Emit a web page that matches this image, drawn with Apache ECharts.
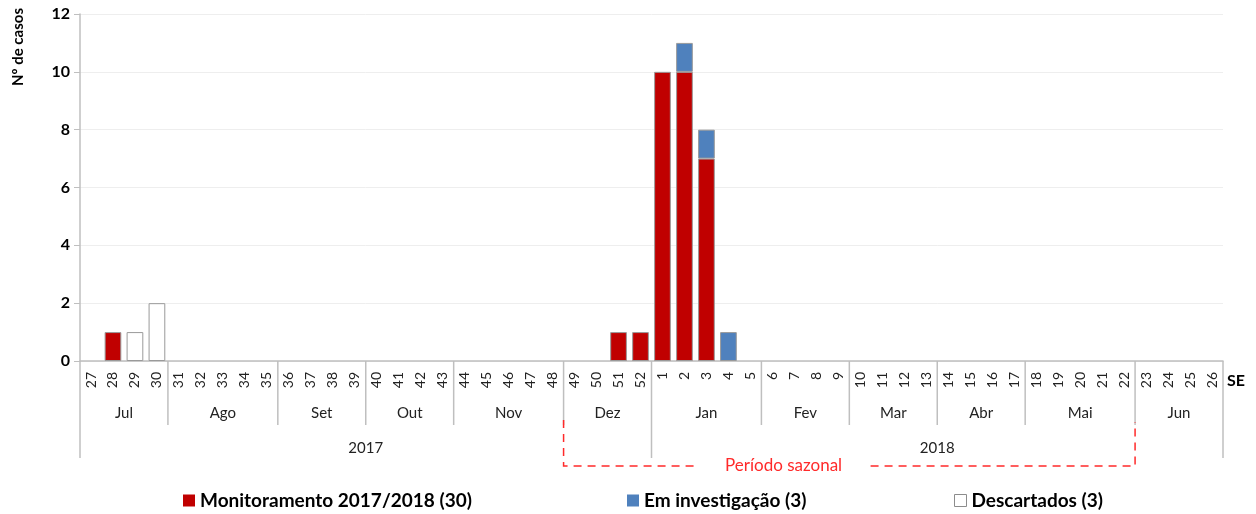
<!DOCTYPE html>
<html>
<head>
<meta charset="utf-8">
<script src="https://cdn.jsdelivr.net/npm/echarts@6/dist/echarts.min.js"></script>
<style>
  html, body { margin: 0; padding: 0; background: #fff; }
  #chart { width: 1256px; height: 514px; }
</style>
</head>
<body>
<div id="chart"></div>
<script>
const FONT = 'Lato, "Open Sans", sans-serif';

// epidemiological weeks (SE) 27/2017 .. 26/2018
const weeks = [
  '27', '28', '29', '30', '31', '32', '33', '34', '35', '36', '37', '38', '39',
  '40', '41', '42', '43', '44', '45', '46', '47', '48', '49', '50', '51', '52',
  '1', '2', '3', '4', '5', '6', '7', '8', '9', '10', '11', '12', '13',
  '14', '15', '16', '17', '18', '19', '20', '21', '22', '23', '24', '25', '26'
];
const monthLabels = ['Jul', 'Ago', 'Set', 'Out', 'Nov', 'Dez', 'Jan', 'Fev', 'Mar', 'Abr', 'Mai', 'Jun'];
const monthWeeks = [4, 5, 4, 4, 5, 4, 5, 4, 4, 4, 5, 4];
const yearLabels = ['2017', '2018'];
const yearWeeks = [26, 26];

const monitoramento = [
  0, 1, 0, 0, 0, 0, 0, 0, 0, 0, 0, 0, 0,
  0, 0, 0, 0, 0, 0, 0, 0, 0, 0, 0, 1, 1,
  10, 10, 7, 0, 0, 0, 0, 0, 0, 0, 0, 0, 0,
  0, 0, 0, 0, 0, 0, 0, 0, 0, 0, 0, 0, 0
];
const investigacao = [
  0, 0, 0, 0, 0, 0, 0, 0, 0, 0, 0, 0, 0,
  0, 0, 0, 0, 0, 0, 0, 0, 0, 0, 0, 0, 0,
  0, 1, 1, 1, 0, 0, 0, 0, 0, 0, 0, 0, 0,
  0, 0, 0, 0, 0, 0, 0, 0, 0, 0, 0, 0, 0
];
const descartados = [
  0, 0, 1, 2, 0, 0, 0, 0, 0, 0, 0, 0, 0,
  0, 0, 0, 0, 0, 0, 0, 0, 0, 0, 0, 0, 0,
  0, 0, 0, 0, 0, 0, 0, 0, 0, 0, 0, 0, 0,
  0, 0, 0, 0, 0, 0, 0, 0, 0, 0, 0, 0, 0
];

const seriesNames = ['Monitoramento 2017/2018 (30)', 'Em investigação (3)', 'Descartados (3)'];

// seasonal period: from week 49 (2017) to week 22 (2018)
const seasonStart = '49';
const seasonEnd = '22';

const chart = echarts.init(document.getElementById('chart'));

// zeros are drawn as gaps so no empty outlines show up
const noZero = (arr) => arr.map((v) => (v === 0 ? '-' : v));

const barSeries = (name, data, color) => ({
  name: name,
  type: 'bar',
  stack: 'casos',
  data: noZero(data),
  barCategoryGap: '24%',
  itemStyle: {color: color, borderColor: '#9a9a9a', borderWidth: 1}
});

// one legend per item so each sits where the original puts it
const legendAt = (name, left, extra) => ({
  left: left,
  top: 486,
  itemWidth: 12,
  itemHeight: 12,
  icon: 'rect',
  textStyle: {fontSize: 19, fontWeight: 'bold', color: '#000', fontFamily: FONT},
  data: [Object.assign({name: name}, extra || {})]
});

chart.setOption({
  animation: false,
  textStyle: {fontFamily: FONT},
  grid: {left: 80, right: 33, top: 14, bottom: 153},
  legend: [
    legendAt(seriesNames[0], 178, {itemStyle: {borderWidth: 0}}),
    legendAt(seriesNames[1], 622, {itemStyle: {borderWidth: 0}}),
    legendAt(seriesNames[2], 949, {itemStyle: {borderColor: '#8c8c8c', borderWidth: 1}})
  ],
  xAxis: {
    type: 'category',
    data: weeks,
    axisLine: {lineStyle: {color: '#bfbfbf', width: 1.5}},
    axisTick: {show: false},
    axisLabel: {rotate: 90, fontSize: 14, color: '#222', margin: 11, interval: 0}
  },
  yAxis: {
    type: 'value',
    min: 0,
    max: 12,
    interval: 2,
    axisLine: {show: true, lineStyle: {color: '#bfbfbf', width: 1.5}},
    axisTick: {show: true, length: 6, lineStyle: {color: '#bfbfbf'}},
    axisLabel: {fontSize: 16, fontWeight: 'bold', color: '#000', margin: 10},
    splitLine: {lineStyle: {color: '#eeeeee'}}
  },
  series: [
    barSeries(seriesNames[0], monitoramento, '#c00000'),
    barSeries(seriesNames[1], investigacao, '#4f81bd'),
    barSeries(seriesNames[2], descartados, '#ffffff')
  ]
});

// month / year rows, separators and the seasonal-period bracket
function drawAnnotations() {
  const c0 = chart.convertToPixel({xAxisIndex: 0}, weeks[0]);
  const c1 = chart.convertToPixel({xAxisIndex: 0}, weeks[1]);
  const w = c1 - c0;
  const boundary = (i) => c0 - w / 2 + i * w;
  const y0 = chart.convertToPixel({yAxisIndex: 0}, 0);
  const sepStyle = {stroke: '#bfbfbf', lineWidth: 1.5};
  const els = [];

  const yearBounds = [0];
  yearWeeks.reduce((acc, n) => { yearBounds.push(acc + n); return acc + n; }, 0);

  let start = 0;
  monthWeeks.forEach((n, k) => {
    const end = start + n;
    els.push({
      type: 'text',
      style: {
        text: monthLabels[k], x: (boundary(start) + boundary(end)) / 2, y: y0 + 52,
        align: 'center', verticalAlign: 'middle', fontSize: 15, fill: '#222', fontFamily: FONT
      }
    });
    if (end < weeks.length && yearBounds.indexOf(end) < 0) {
      els.push({type: 'line', shape: {x1: boundary(end), y1: y0, x2: boundary(end), y2: y0 + 64}, style: sepStyle});
    }
    start = end;
  });

  yearBounds.forEach((b) => {
    els.push({type: 'line', shape: {x1: boundary(b), y1: y0, x2: boundary(b), y2: y0 + 97}, style: sepStyle});
  });
  yearLabels.forEach((label, k) => {
    els.push({
      type: 'text',
      style: {
        text: label, x: (boundary(yearBounds[k]) + boundary(yearBounds[k + 1])) / 2, y: y0 + 87,
        align: 'center', verticalAlign: 'middle', fontSize: 15, fill: '#222', fontFamily: FONT
      }
    });
  });

  // SE label at end of week axis
  els.push({
    type: 'text',
    style: {
      text: 'SE', x: boundary(weeks.length) + 4, y: y0 + 20,
      align: 'left', verticalAlign: 'middle', fontSize: 16, fontWeight: 'bold', fill: '#000', fontFamily: FONT
    }
  });

  // y axis title
  els.push({
    type: 'text',
    x: 18, y: 8, rotation: Math.PI / 2,
    style: {
      text: 'Nº de casos', x: 0, y: 0,
      align: 'right', verticalAlign: 'middle', fontSize: 15, fontWeight: 'bold', fill: '#000', fontFamily: FONT
    }
  });

  // seasonal period bracket
  const xs = boundary(weeks.indexOf(seasonStart));
  const xe = boundary(weeks.lastIndexOf(seasonEnd) + 1);
  const yb = y0 + 105;
  const dash = {stroke: '#ff2a2a', lineWidth: 1.5, lineDash: [8, 6], fill: null};
  els.push({type: 'polyline', shape: {points: [[xs, y0 + 59], [xs, yb], [xs + 131, yb]]}, style: dash});
  els.push({type: 'polyline', shape: {points: [[xs + 307, yb], [xe, yb], [xe, y0 + 61]]}, style: dash});
  els.push({
    type: 'text',
    style: {
      text: 'Período sazonal', x: xs + 220, y: yb,
      align: 'center', verticalAlign: 'middle', fontSize: 17, fill: '#ff2a2a', fontFamily: FONT
    }
  });

  chart.setOption({graphic: els});
}

drawAnnotations();
</script>
</body>
</html>
